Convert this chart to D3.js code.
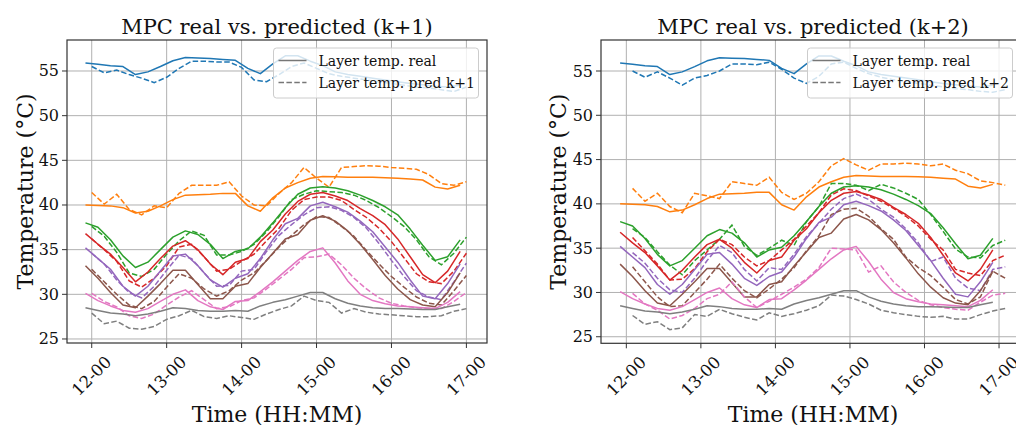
<!DOCTYPE html>
<html>
<head>
<meta charset="utf-8">
<script src="https://cdn.jsdelivr.net/npm/d3@7"></script>
<style>
  html, body { margin: 0; padding: 0; background: #fff; }
  svg { display: block; font-family: "DejaVu Serif", serif; }
</style>
</head>
<body>
<svg id="chart" width="1016" height="425"></svg>
<script>
// time grid in minutes after 12:00 (real every 10 min, predictions shifted by one/two 5-min steps)
var realTimes = d3.range(-5, 300, 10);
var predK1Times = d3.range(0, 305, 10);
var predK2Times = d3.range(5, 310, 10);

var hourTicks = [0, 60, 120, 180, 240, 300];
var hourLabels = ['12-00', '13-00', '14-00', '15-00', '16-00', '17-00'];
var tempTicks = [25, 30, 35, 40, 45, 50, 55];

var layerColors = ['#1f77b4', '#ff7f0e', '#2ca02c', '#d62728', '#9467bd', '#8c564b', '#e377c2', '#7f7f7f'];

// measured layer temperatures (°C)
var layer1Real = [55.9, 55.75, 55.6, 55.5, 54.6, 54.9, 55.5, 56.15, 56.5, 56.45, 56.4, 56.3, 56.2, 55.3, 54.7, 55.8, 56.7, 56.7, 56.1, 55.6, 54.9, 54.6, 54.4, 54.2, 54.0, 53.8, 53.6, 53.45, 53.3, 53.2, 53.4];
var layer2Real = [40.0, 39.95, 39.9, 39.7, 39.1, 39.3, 39.9, 40.6, 41.1, 41.15, 41.2, 41.3, 41.3, 39.9, 39.3, 40.8, 41.9, 42.5, 43.0, 43.2, 43.15, 43.1, 43.1, 43.1, 43.05, 43.0, 42.9, 42.8, 42.0, 41.8, 42.2];
var layer3Real = [38.0, 37.5, 36.1, 34.3, 33.0, 33.6, 35.0, 36.4, 37.1, 36.7, 35.6, 34.0, 34.8, 35.1, 36.4, 38.0, 39.7, 41.2, 41.9, 42.05, 41.9, 41.6, 41.1, 40.5, 39.8, 38.9, 37.3, 35.5, 33.8, 34.2, 36.1];
var layer4Real = [36.8, 35.6, 34.5, 33.0, 31.4, 32.5, 34.0, 35.4, 36.0, 35.0, 33.4, 32.2, 33.6, 34.0, 35.9, 37.2, 39.0, 40.4, 41.2, 41.4, 41.0, 40.5, 39.6, 38.8, 37.8, 36.2, 34.2, 32.2, 31.3, 32.6, 34.8];
var layer5Real = [35.2, 34.0, 32.8, 30.9, 29.8, 30.9, 32.6, 34.3, 34.5, 33.2, 31.6, 30.8, 31.8, 32.3, 34.0, 36.1, 37.9, 38.5, 39.9, 40.3, 39.8, 39.2, 38.2, 37.0, 35.3, 33.6, 31.6, 29.8, 29.5, 31.2, 33.4];
var layer6Real = [33.2, 31.8, 30.2, 28.8, 28.5, 29.8, 31.2, 32.7, 32.7, 31.1, 29.5, 29.5, 30.9, 31.2, 33.0, 34.6, 36.2, 36.7, 38.3, 38.8, 38.2, 37.1, 35.6, 33.9, 32.1, 30.6, 29.4, 28.8, 28.6, 30.2, 32.4];
var layer7Real = [30.1, 29.3, 28.7, 28.2, 28.0, 28.4, 29.2, 30.0, 30.5, 29.3, 28.6, 28.3, 29.2, 29.3, 30.3, 31.4, 32.6, 33.8, 34.8, 35.2, 33.5, 31.5, 30.0, 29.3, 28.95, 28.7, 28.6, 28.5, 28.4, 29.1, 30.3];
var layer8Real = [28.5, 28.2, 27.9, 27.8, 27.6, 27.8, 28.1, 28.5, 28.4, 28.2, 28.1, 28.1, 28.2, 28.1, 28.7, 29.1, 29.4, 29.8, 30.2, 30.2, 29.5, 29.0, 28.7, 28.5, 28.4, 28.4, 28.35, 28.3, 28.3, 28.6, 28.9];

// one-step-ahead predictions (k+1)
var layer1PredK1 = [55.5, 54.8, 55.1, 54.6, 54.2, 53.7, 54.3, 55.3, 56.1, 56.1, 56.0, 56.0, 55.4, 54.0, 53.8, 54.6, 55.5, 55.9, 55.3, 54.7, 54.4, 54.2, 54.0, 53.8, 53.6, 53.4, 53.2, 53.1, 52.9, 52.7, 53.2];
var layer2PredK1 = [41.4, 40.1, 41.2, 39.5, 38.9, 39.9, 39.7, 41.3, 42.2, 42.2, 42.2, 42.6, 41.0, 40.0, 39.9, 41.3, 42.5, 44.2, 43.0, 42.0, 44.2, 44.3, 44.4, 44.35, 44.2, 44.1, 44.0, 43.4, 42.4, 42.2, 42.6];
var layer3PredK1 = [37.6, 36.5, 34.7, 32.4, 32.0, 32.8, 34.5, 36.0, 37.1, 36.6, 34.4, 34.4, 34.8, 35.6, 37.0, 38.7, 40.6, 41.2, 41.6, 41.5, 41.4, 41.1, 40.5, 39.7, 38.7, 37.6, 36.1, 34.2, 33.3, 34.6, 36.4];
var layer4PredK1 = [36.2, 35.0, 33.7, 31.5, 30.8, 31.8, 33.2, 35.3, 35.6, 34.2, 32.6, 32.8, 33.7, 34.5, 36.0, 37.4, 39.4, 40.6, 40.9, 40.9, 40.5, 39.5, 38.6, 37.4, 35.9, 34.1, 32.3, 31.4, 31.2, 32.6, 34.6];
var layer5PredK1 = [34.6, 33.4, 31.6, 30.2, 29.6, 30.9, 32.7, 34.4, 34.0, 32.4, 30.9, 31.0, 32.6, 32.8, 34.8, 36.6, 37.8, 38.9, 39.7, 39.8, 39.4, 38.6, 37.4, 35.7, 33.8, 32.0, 30.4, 29.7, 29.4, 31.4, 33.5];
var layer6PredK1 = [32.8, 31.4, 30.0, 28.8, 28.4, 29.2, 30.8, 32.3, 31.8, 30.6, 29.8, 30.4, 31.6, 32.4, 33.8, 35.3, 36.6, 37.8, 38.7, 38.6, 37.6, 36.5, 34.9, 33.4, 32.0, 30.8, 29.7, 29.0, 28.8, 30.4, 32.1];
var layer7PredK1 = [30.1, 29.2, 28.6, 27.6, 27.3, 27.8, 28.8, 29.7, 30.4, 29.4, 28.4, 28.6, 29.3, 29.6, 30.6, 31.7, 32.8, 34.1, 34.2, 34.5, 33.3, 31.8, 30.6, 29.6, 29.0, 28.7, 28.5, 28.4, 28.4, 29.2, 30.2];
var layer8PredK1 = [27.9, 26.7, 27.0, 26.2, 26.1, 26.4, 27.2, 27.6, 28.2, 27.5, 27.3, 27.6, 27.4, 27.2, 27.8, 28.3, 28.7, 29.8, 29.3, 29.1, 27.9, 28.4, 28.0, 27.8, 27.7, 27.6, 27.5, 27.5, 27.6, 28.1, 28.4];

// two-step-ahead predictions (k+2)
var layer1PredK2 = [55.0, 54.3, 54.9, 54.2, 53.4, 54.2, 54.5, 55.0, 55.8, 55.8, 55.7, 56.0, 55.2, 54.2, 53.6, 54.4, 55.8, 56.0, 55.3, 54.7, 54.3, 54.0, 53.8, 53.6, 53.4, 53.2, 53.0, 52.9, 52.7, 52.6, 52.9];
var layer2PredK2 = [41.75, 40.3, 41.2, 39.7, 39.0, 41.2, 40.9, 40.6, 42.5, 42.3, 42.1, 43.0, 41.3, 40.5, 41.2, 42.5, 44.3, 45.1, 44.4, 43.8, 44.5, 44.5, 44.6, 44.5, 44.3, 44.5, 43.8, 43.4, 42.6, 42.4, 42.1];
var layer3PredK2 = [37.2, 36.2, 34.6, 33.1, 32.0, 33.6, 34.8, 36.0, 37.6, 35.2, 34.2, 35.0, 35.9, 35.3, 38.0, 39.7, 42.3, 42.3, 42.1, 41.5, 42.2, 41.8, 41.2, 40.5, 38.8, 36.9, 34.9, 34.0, 33.9, 35.3, 35.9];
var layer4PredK2 = [36.2, 34.7, 33.2, 31.4, 31.5, 32.7, 34.6, 36.0, 35.4, 34.0, 33.0, 33.6, 34.8, 36.0, 37.5, 39.0, 41.0, 41.7, 41.5, 40.9, 40.3, 39.5, 38.6, 37.5, 36.0, 34.8, 32.6, 32.2, 31.9, 33.6, 34.2];
var layer5PredK2 = [34.5, 33.3, 31.6, 30.3, 30.0, 31.6, 33.6, 35.3, 34.5, 32.6, 31.3, 32.8, 32.6, 34.3, 36.3, 37.8, 39.4, 40.6, 41.1, 40.5, 39.4, 38.5, 37.2, 35.6, 33.5, 34.0, 31.6, 30.5, 30.2, 32.6, 32.9];
var layer6PredK2 = [32.9, 31.2, 29.5, 28.4, 28.5, 30.0, 31.5, 33.2, 31.6, 30.2, 29.4, 30.4, 31.5, 32.8, 34.7, 36.4, 38.8, 39.4, 39.5, 38.6, 37.2, 36.0, 34.0, 32.8, 31.9, 30.6, 29.2, 28.7, 29.5, 32.4, 31.6];
var layer7PredK2 = [29.9, 28.7, 28.0, 27.0, 27.4, 28.2, 29.3, 29.8, 31.2, 29.5, 28.3, 29.0, 29.8, 30.6, 31.5, 32.8, 35.0, 34.9, 34.8, 32.3, 33.0, 31.2, 30.0, 29.1, 28.6, 28.3, 28.1, 28.0, 28.9, 29.7, 29.9];
var layer8PredK2 = [27.4, 26.4, 26.7, 25.8, 26.0, 27.5, 27.3, 28.1, 27.6, 27.2, 26.9, 27.7, 27.3, 27.6, 28.0, 28.5, 29.7, 29.6, 29.2, 28.7, 28.0, 27.7, 27.5, 27.3, 27.2, 27.3, 27.0, 27.0, 27.5, 27.9, 28.2];

var realLayers = [layer1Real, layer2Real, layer3Real, layer4Real, layer5Real, layer6Real, layer7Real, layer8Real];
var predK1Layers = [layer1PredK1, layer2PredK1, layer3PredK1, layer4PredK1, layer5PredK1, layer6PredK1, layer7PredK1, layer8PredK1];
var predK2Layers = [layer1PredK2, layer2PredK2, layer3PredK2, layer4PredK2, layer5PredK2, layer6PredK2, layer7PredK2, layer8PredK2];

var panels = [
  { title: 'MPC real vs. predicted (k+1)', predLabel: 'Layer temp. pred k+1',
    left: 67, right: 487, top: 40, bottom: 343,
    xDomain: [-19.8, 316.5], yDomain: [24.55, 58.47],
    predTimes: predK1Times, preds: predK1Layers, ylabelX: 25 },
  { title: 'MPC real vs. predicted (k+2)', predLabel: 'Layer temp. pred k+2',
    left: 601, right: 1025, top: 40, bottom: 343.3,
    xDomain: [-20.4, 320.9], yDomain: [24.26, 58.5],
    predTimes: predK2Times, preds: predK2Layers, ylabelX: 558 }
];

var svg = d3.select('#chart');

panels.forEach(function (p) {
  var x = d3.scaleLinear().domain(p.xDomain).range([p.left, p.right]);
  var y = d3.scaleLinear().domain(p.yDomain).range([p.bottom, p.top]);
  var g = svg.append('g');

  // grid
  g.selectAll('.vgrid').data(hourTicks).enter().append('line')
    .attr('x1', function (d) { return x(d); }).attr('x2', function (d) { return x(d); })
    .attr('y1', p.top).attr('y2', p.bottom)
    .attr('stroke', '#b0b0b0').attr('stroke-width', 1);
  g.selectAll('.hgrid').data(tempTicks).enter().append('line')
    .attr('y1', function (d) { return y(d); }).attr('y2', function (d) { return y(d); })
    .attr('x1', p.left).attr('x2', p.right)
    .attr('stroke', '#b0b0b0').attr('stroke-width', 1);

  var clipId = 'clip' + p.left;
  svg.append('clipPath').attr('id', clipId).append('rect')
    .attr('x', p.left).attr('y', p.top)
    .attr('width', p.right - p.left).attr('height', p.bottom - p.top);

  var lines = g.append('g').attr('clip-path', 'url(#' + clipId + ')');
  realLayers.forEach(function (vals, i) {
    var line = d3.line().x(function (d, j) { return x(realTimes[j]); }).y(function (d) { return y(d); });
    lines.append('path').attr('d', line(vals))
      .attr('fill', 'none').attr('stroke', layerColors[i]).attr('stroke-width', 1.5)
      .attr('stroke-linejoin', 'round');
    var pline = d3.line().x(function (d, j) { return x(p.predTimes[j]); }).y(function (d) { return y(d); });
    lines.append('path').attr('d', pline(p.preds[i]))
      .attr('fill', 'none').attr('stroke', layerColors[i]).attr('stroke-width', 1.5)
      .attr('stroke-dasharray', '5.5,2.4');
  });

  // frame
  g.append('rect')
    .attr('x', p.left).attr('y', p.top)
    .attr('width', p.right - p.left).attr('height', p.bottom - p.top)
    .attr('fill', 'none').attr('stroke', '#333').attr('stroke-width', 1.2);

  // y axis
  g.selectAll('.ytick').data(tempTicks).enter().append('line')
    .attr('x1', p.left - 5).attr('x2', p.left)
    .attr('y1', function (d) { return y(d); }).attr('y2', function (d) { return y(d); })
    .attr('stroke', '#333').attr('stroke-width', 1);
  g.selectAll('.ylab').data(tempTicks).enter().append('text')
    .attr('x', p.left - 8).attr('y', function (d) { return y(d); })
    .attr('text-anchor', 'end').attr('dominant-baseline', 'central')
    .attr('font-size', 16).attr('fill', '#111')
    .text(function (d) { return d; });

  // x axis
  g.selectAll('.xtick').data(hourTicks).enter().append('line')
    .attr('x1', function (d) { return x(d); }).attr('x2', function (d) { return x(d); })
    .attr('y1', p.bottom).attr('y2', p.bottom + 5)
    .attr('stroke', '#333').attr('stroke-width', 1);
  g.selectAll('.xlab').data(hourTicks).enter().append('text')
    .attr('transform', function (d) { return 'translate(' + x(d) + ',' + (p.bottom + 33) + ') rotate(-45)'; })
    .attr('text-anchor', 'middle').attr('dominant-baseline', 'central')
    .attr('font-size', 16.5).attr('fill', '#111')
    .text(function (d, i) { return hourLabels[i]; });

  var cx = (p.left + p.right) / 2;
  g.append('text').attr('x', cx).attr('y', 34)
    .attr('text-anchor', 'middle').attr('font-size', 21).attr('fill', '#111')
    .text(p.title);
  g.append('text').attr('x', cx).attr('y', 422)
    .attr('text-anchor', 'middle').attr('font-size', 22).attr('fill', '#111')
    .text('Time (HH:MM)');
  g.append('text')
    .attr('transform', 'translate(' + p.ylabelX + ',' + ((p.top + p.bottom) / 2) + ') rotate(-90)')
    .attr('text-anchor', 'middle').attr('dominant-baseline', 'central')
    .attr('font-size', 22).attr('fill', '#111')
    .text('Temperature (°C)');

  // legend
  var lx = p.left + 206.5, ly = 48;
  var leg = g.append('g');
  leg.append('rect').attr('x', lx).attr('y', ly).attr('width', 205).attr('height', 50)
    .attr('rx', 3).attr('fill', '#fff').attr('fill-opacity', 0.8)
    .attr('stroke', '#ccc').attr('stroke-width', 1);
  [{ dash: null, label: 'Layer temp. real' }, { dash: '5.5,2.4', label: p.predLabel }].forEach(function (e, i) {
    var ry = ly + 12.5 + i * 22;
    leg.append('line').attr('x1', lx + 5).attr('x2', lx + 33).attr('y1', ry).attr('y2', ry)
      .attr('stroke', '#777').attr('stroke-width', 1.5)
      .attr('stroke-dasharray', e.dash);
    leg.append('text').attr('x', lx + 45).attr('y', ry)
      .attr('dominant-baseline', 'central').attr('font-size', 14).attr('fill', '#111')
      .text(e.label);
  });
});
</script>
</body>
</html>
